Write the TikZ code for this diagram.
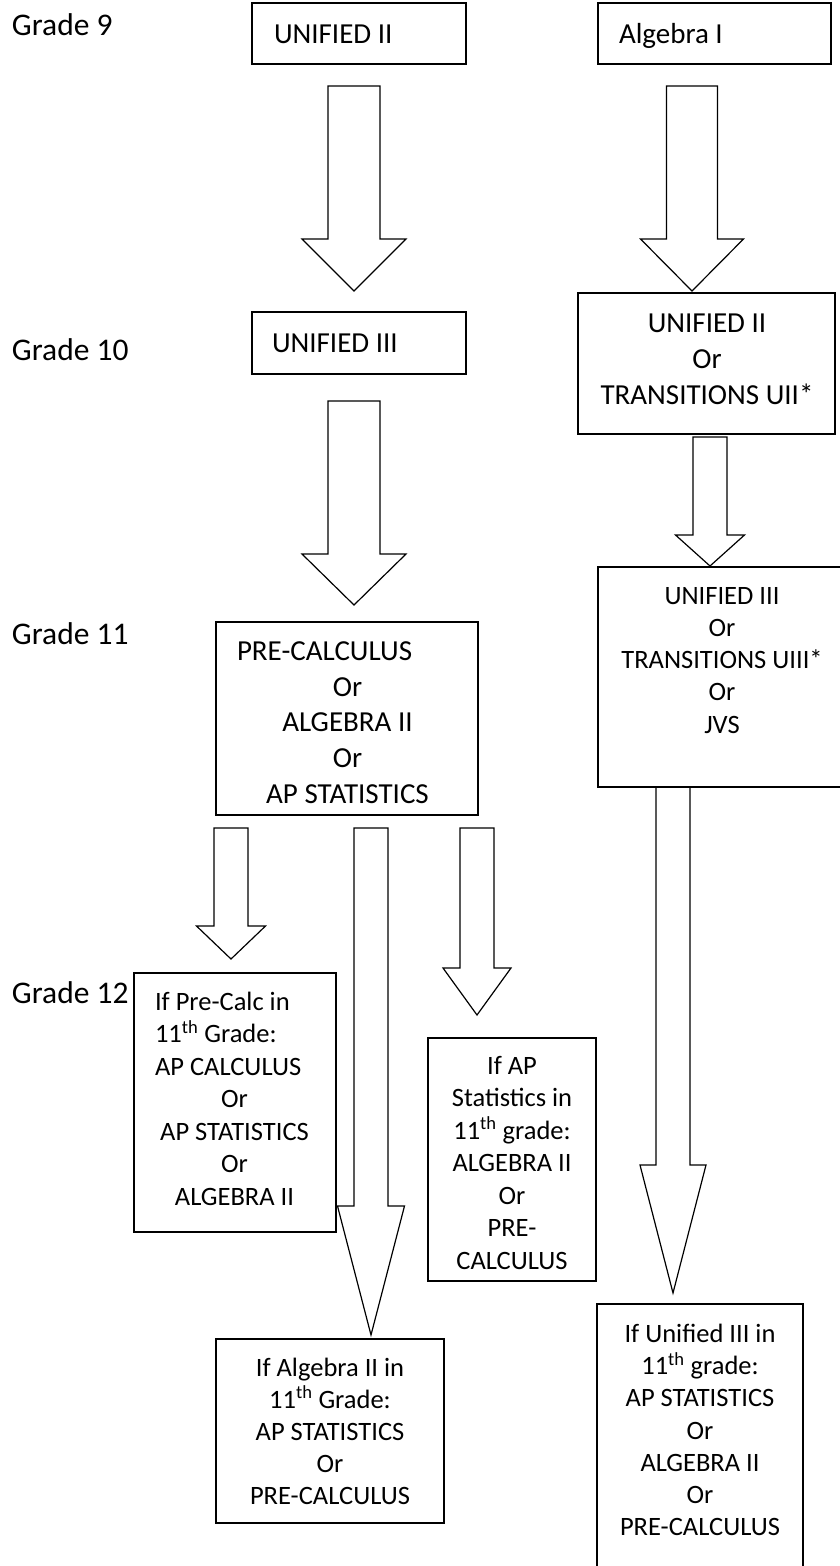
\documentclass[tikz,border=0pt]{standalone}
\usepackage{fontspec}
\setmainfont{Carlito}
\newcommand{\blockarr}[6]{% cx, top, shoulder, tip, shaft width, head width
  \draw[barr] ({#1-#5/2},#2) -- ({#1+#5/2},#2) -- ({#1+#5/2},#3) -- ({#1+#6/2},#3)
    -- (#1,#4) -- ({#1-#6/2},#3) -- ({#1-#5/2},#3) -- cycle;}
\begin{document}
\begin{tikzpicture}[x=1pt,y=-1pt,
  box/.style={draw, line width=1.5pt, rectangle, inner sep=0pt, outer sep=0pt, anchor=north west},
  barr/.style={draw, line width=1.2pt, line join=miter, fill=white},
  lab/.style={inner sep=0pt, outer sep=0pt, anchor=base west, font=\fontsize{31.5}{38}\selectfont},
  big/.style={inner sep=0pt, outer sep=0pt, font=\fontsize{29}{35}\selectfont},
  small/.style={inner sep=0pt, outer sep=0pt, font=\fontsize{26.5}{32}\selectfont}]
\clip (0,0) rectangle (840,1566);
\fill[white] (0,0) rectangle (840,1566);

% grade labels
\node[lab] (g9)  at (12,35)   {Grade 9};
\node[lab] (g10) at (12,360)  {Grade 10};
\node[lab] (g11) at (12,644)  {Grade 11};
\node[lab] (g12) at (12,1003) {Grade 12};

% block arrows
\blockarr{354}{86}{239}{291}{52}{104}
\blockarr{692}{86}{239}{291}{51}{103}
\blockarr{354}{401}{554}{605}{52}{104}
\blockarr{710}{437}{535}{566}{34}{69}
\blockarr{231}{828}{926}{959}{34}{69}
\blockarr{371}{828}{1206}{1335}{34}{67}
\blockarr{477}{828}{968}{1015}{34}{68}
\blockarr{673}{787}{1165}{1293}{34}{66}

% boxes
\node[box, minimum width=214pt, minimum height=61pt]  (b1)  at (252,3) {};
\node[box, minimum width=233pt, minimum height=61pt]  (b2)  at (598,3) {};
\node[box, minimum width=214pt, minimum height=62pt]  (b3)  at (252,312) {};
\node[box, minimum width=257pt, minimum height=141pt] (b4)  at (578,293) {};
\node[box, minimum width=248pt, minimum height=220pt] (b5)  at (598,567) {};
\node[box, minimum width=262pt, minimum height=193pt] (b6)  at (216,622) {};
\node[box, minimum width=202pt, minimum height=259pt] (b7)  at (134,973) {};
\node[box, minimum width=168pt, minimum height=243pt] (b8)  at (428,1038) {};
\node[box, minimum width=228pt, minimum height=184pt] (b9)  at (216,1339) {};
\node[box, minimum width=206pt, minimum height=280pt] (b10) at (597,1304) {};

% texts
\node[big, anchor=base west] (t1) at (274,43) {UNIFIED II};
\node[big, anchor=base west] (t2) at (619,43) {Algebra I};
\node[big, anchor=base west] (t3) at (272,352) {UNIFIED III};

\foreach \s [count=\i] in {UNIFIED II, Or, TRANSITIONS UII*}
  \node[big, anchor=base] (b4l\i) at (707,{332+(\i-1)*36}) {\s};

\foreach \s [count=\i] in {UNIFIED III, Or, TRANSITIONS UIII*, Or, JVS}
  \node[small, anchor=base] (b5l\i) at (722,{604+(\i-1)*32.25}) {\s};

\node[big, anchor=base west] (b6l1) at (237,660) {PRE-CALCULUS};
\foreach \s [count=\i] in {Or, ALGEBRA II, Or, AP STATISTICS}
  \node[big, anchor=base] (b6l\i x) at (347.5,{696+(\i-1)*35.7}) {\s};

\foreach \s [count=\i] in {If Pre-Calc in, {11\textsuperscript{th} Grade:}, AP CALCULUS}
  \node[small, anchor=base west] (b7l\i) at (155,{1010+(\i-1)*32.5}) {\s};
\foreach \s [count=\i] in {Or, AP STATISTICS, Or, ALGEBRA II}
  \node[small, anchor=base] (b7m\i) at (234.5,{1107.5+(\i-1)*32.5}) {\s};

\foreach \s [count=\i] in {If AP, Statistics in, {11\textsuperscript{th} grade:}, ALGEBRA II, Or, PRE-, CALCULUS}
  \node[small, anchor=base] (b8l\i) at (512,{1074+(\i-1)*32.5}) {\s};

\foreach \s [count=\i] in {If Algebra II in, {11\textsuperscript{th} Grade:}, AP STATISTICS, Or, PRE-CALCULUS}
  \node[small, anchor=base] (b9l\i) at (330,{1376+(\i-1)*32}) {\s};

\foreach \s [count=\i] in {If Unified III in, {11\textsuperscript{th} grade:}, AP STATISTICS, Or, ALGEBRA II, Or, PRE-CALCULUS}
  \node[small, anchor=base] (b10l\i) at (700,{1342+(\i-1)*32.33}) {\s};
\end{tikzpicture}
\end{document}
